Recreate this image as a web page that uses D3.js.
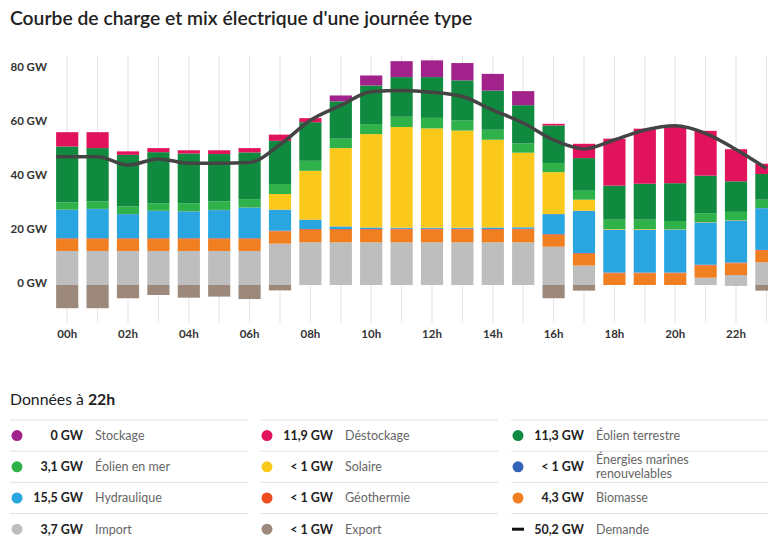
<!DOCTYPE html>
<html>
<head>
<meta charset="utf-8">
<script src="https://cdn.jsdelivr.net/npm/d3@7"></script>
<style>
    body { margin: 0; background: #fff; }
    svg { font-family: Lato, 'Noto Sans', sans-serif; }
</style>
</head>
<body>
<svg id="chart" width="768" height="543"></svg>
<script>
// mix électrique heure par heure (GW)
var hourLabels = [ '00h', '01h', '02h', '03h', '04h', '05h', '06h', '07h', '08h', '09h', '10h', '11h',
                   '12h', '13h', '14h', '15h', '16h', '17h', '18h', '19h', '20h', '21h', '22h', '23h' ];
var axisHours = [ '00h', '02h', '04h', '06h', '08h', '10h', '12h', '14h', '16h', '18h', '20h', '22h' ];
var yTicks = [ 0, 20, 40, 60, 80 ];

var importGW      = [ 12.6, 12.6, 12.6, 12.6, 12.6, 12.6, 12.6, 15.3, 15.8, 15.8, 15.8, 15.8, 15.8, 15.8, 15.8, 15.8, 14.2, 7.2, 0, 0, 0, 2.7, 3.7, 8.4 ];
var biomasse      = [ 4.4, 4.4, 4.4, 4.4, 4.4, 4.4, 4.4, 4.5, 4.6, 4.6, 4.6, 4.7, 4.7, 4.7, 4.6, 4.7, 4.3, 4.3, 4.3, 4.3, 4.3, 4.5, 4.3, 4.3 ];
var geothermie    = [ 0.3, 0.3, 0.3, 0.3, 0.3, 0.3, 0.3, 0.3, 0.3, 0.3, 0.3, 0.3, 0.3, 0.3, 0.3, 0.3, 0.3, 0.3, 0.3, 0.3, 0.3, 0.3, 0.3, 0.3 ];
var hydraulique   = [ 10.5, 10.8, 8.9, 10.1, 9.9, 10.4, 11.3, 7.7, 3.4, 0.9, 0.5, 0.3, 0.3, 0.3, 0.5, 0.5, 7.4, 15.6, 15.8, 15.8, 15.8, 15.6, 15.5, 15.4 ];
var marines       = [ 0.1, 0.1, 0.1, 0.1, 0.1, 0.1, 0.1, 0.1, 0.1, 0.1, 0.1, 0.1, 0.1, 0.1, 0.1, 0.1, 0.1, 0.1, 0.1, 0.1, 0.1, 0.1, 0.1, 0.1 ];
var solaire       = [ 0, 0, 0, 0, 0, 0, 0, 5.8, 18.1, 29.0, 34.6, 37.3, 36.8, 36.0, 32.5, 27.6, 15.5, 4.1, 0.2, 0.2, 0.1, 0.1, 0.1, 0 ];
var eolienMer     = [ 2.7, 2.8, 2.8, 2.8, 3.0, 3.2, 3.1, 3.7, 3.7, 3.5, 3.7, 3.8, 3.9, 3.7, 3.7, 3.4, 3.4, 3.3, 3.5, 3.5, 3.1, 3.3, 3.1, 3.1 ];
var eolienTerre   = [ 20.7, 19.7, 19.1, 18.9, 18.4, 17.5, 17.3, 16.0, 14.3, 13.8, 14.3, 14.7, 15.1, 14.9, 14.5, 14.2, 13.9, 12.1, 12.6, 13.3, 14.0, 13.9, 11.3, 9.5 ];
var destockage    = [ 5.3, 5.9, 1.3, 1.5, 1.2, 1.4, 1.6, 2.3, 1.5, 0, 0, 0, 0, 0, 0, 0, 0.6, 5.3, 17.4, 20.4, 20.9, 16.6, 11.9, 3.8 ];
var stockage      = [ 0, 0, 0, 0, 0, 0, 0, 0, 0, 2.2, 3.7, 5.9, 6.2, 6.4, 6.2, 5.2, 0, 0, 0, 0, 0, 0, 0, 0 ];
var exportGW      = [ 8.6, 8.6, 4.9, 3.7, 4.7, 4.3, 5.2, 2.0, 0, 0, 0, 0, 0, 0, 0, 0, 4.9, 2.1, 0, 0, 0, 0, 0.2, 2.1 ];
var demande       = [ 47.5, 47.5, 44.4, 46.7, 45.1, 45.1, 45.4, 52.0, 61.0, 66.5, 71.6, 72.0, 71.4, 69.8, 64.8, 60.0, 53.7, 50.4, 53.7, 57.4, 59.0, 56.2, 50.2, 43.2 ];

var selectedHour = 22;

var series = [
    { key: 'import',      name: 'Import',          values: importGW,    color: '#bebebe' },
    { key: 'biomasse',    name: 'Biomasse',        values: biomasse,    color: '#f07f22' },
    { key: 'geothermie',  name: 'Géothermie',      values: geothermie,  color: '#ee4b22' },
    { key: 'hydraulique', name: 'Hydraulique',     values: hydraulique, color: '#29a6e0' },
    { key: 'marines',     name: 'Énergies marines renouvelables', values: marines, color: '#3462b6' },
    { key: 'solaire',     name: 'Solaire',         values: solaire,     color: '#fbc91c' },
    { key: 'eolienMer',   name: 'Éolien en mer',   values: eolienMer,   color: '#2fb249' },
    { key: 'eolienTerre', name: 'Éolien terrestre', values: eolienTerre, color: '#0f8a3f' },
    { key: 'destockage',  name: 'Déstockage',      values: destockage,  color: '#e1135d' },
    { key: 'stockage',    name: 'Stockage',        values: stockage,    color: '#a2228b' },
    { key: 'export',      name: 'Export',          values: exportGW,    color: '#9c897c', negative: true }
];

// ordre du tableau, ligne par ligne
var legendOrder = [ 'stockage', 'destockage', 'eolienTerre',
                    'eolienMer', 'solaire', 'marines',
                    'hydraulique', 'geothermie', 'biomasse',
                    'import', 'export', 'demande' ];

var rows = hourLabels.map( function( h, i ) {
    var row = { hour: h };
    series.forEach( function( s ) {
        row[ s.key ] = s.negative ? -s.values[ i ] : s.values[ i ];
    });
    return row;
});

var svg = d3.select( '#chart' );

svg.append( 'text' )
    .attr( 'x', 10 )
    .attr( 'y', 25 )
    .style( 'font-size', '19.3px' )
    .style( 'font-weight', 600 )
    .style( 'fill', '#222' )
    .text( "Courbe de charge et mix électrique d'une journée type" );

var x = d3.scaleBand()
    .domain( hourLabels )
    .range( [ 52, 52 + 24 * 30.4 ] )
    .paddingInner( 0.27 )
    .paddingOuter( 0.135 );

var y = d3.scaleLinear()
    .domain( [ 0, 80 ] )
    .range( [ 285, 69 ] );

function cx( h ) {
    return x( h ) + x.bandwidth() / 2;
}

// grille verticale
svg.append( 'g' )
    .selectAll( 'line' )
    .data( hourLabels )
    .enter().append( 'line' )
        .attr( 'x1', cx )
        .attr( 'x2', cx )
        .attr( 'y1', 56 )
        .attr( 'y2', 323 )
        .style( 'stroke', '#e4e4e4' )
        .style( 'stroke-width', 1 );

var stack = d3.stack()
    .keys( series.map( function( s ) { return s.key; } ) )
    .offset( d3.stackOffsetDiverging );

var layers = svg.append( 'g' )
    .selectAll( 'g' )
    .data( stack( rows ) )
    .enter().append( 'g' )
        .style( 'fill', function( d, i ) { return series[ i ].color; } );

layers.selectAll( 'rect' )
    .data( function( d ) { return d; } )
    .enter().append( 'rect' )
        .attr( 'x', function( d ) { return x( d.data.hour ); } )
        .attr( 'width', x.bandwidth() )
        .attr( 'y', function( d ) { return y( d[ 1 ] ); } )
        .attr( 'height', function( d ) { return Math.max( 0, y( d[ 0 ] ) - y( d[ 1 ] ) ); } );

// courbe de demande
var linePoints = demande.map( function( v, i ) { return [ cx( hourLabels[ i ] ), y( v ) ]; } );
linePoints.unshift( [ x( hourLabels[ 0 ] ), y( demande[ 0 ] ) ] );

svg.append( 'path' )
    .datum( linePoints )
    .attr( 'd', d3.line().curve( d3.curveMonotoneX ) )
    .style( 'fill', 'none' )
    .style( 'stroke', '#444' )
    .style( 'stroke-width', 3.5 )
    .style( 'stroke-linejoin', 'round' );

// axes
var yAxis = svg.append( 'g' )
    .attr( 'transform', 'translate( 47, 0 )' )
    .call( d3.axisLeft( y )
        .tickValues( yTicks )
        .tickSize( 0 )
        .tickPadding( 0 )
        .tickFormat( function( d ) { return d + ' GW'; } ) );

var xAxis = svg.append( 'g' )
    .attr( 'transform', 'translate( 0, 330 )' )
    .call( d3.axisBottom( x )
        .tickValues( axisHours )
        .tickSize( 0 )
        .tickPadding( 0 ) );

[ yAxis, xAxis ].forEach( function( a ) {
    a.select( '.domain' ).remove();
    a.selectAll( 'text' )
        .style( 'font-family', "Lato, 'Noto Sans', sans-serif" )
        .style( 'font-size', '11.5px' )
        .style( 'font-weight', 700 )
        .style( 'fill', '#333' );
});
yAxis.selectAll( 'text' ).attr( 'dy', '0.1em' );

// tableau des données à l'heure choisie
var title = svg.append( 'text' )
    .attr( 'x', 10 )
    .attr( 'y', 405 )
    .style( 'font-size', '15.8px' )
    .style( 'fill', '#222' );
title.append( 'tspan' ).text( 'Données à ' );
title.append( 'tspan' ).style( 'font-weight', 700 ).text( hourLabels[ selectedHour ] );

var colX = [ 10, 260, 511 ];
var colW = [ 238, 238, 257 ];
var rowTop = 420;
var rowH = 31.2;

function fmt( v ) {
    if ( v === 0 ) return '0 GW';
    if ( v < 1 ) return '< 1 GW';
    return v.toFixed( 1 ).replace( '.', ',' ) + ' GW';
}

var cells = legendOrder.map( function( key, i ) {
    var s = series.filter( function( t ) { return t.key === key; } )[ 0 ];
    if ( key === 'demande' ) {
        s = { key: 'demande', name: 'Demande', values: demande, color: '#111' };
    }
    return { s: s, col: i % 3, row: Math.floor( i / 3 ) };
});

var cell = svg.append( 'g' )
    .selectAll( 'g' )
    .data( cells )
    .enter().append( 'g' )
        .attr( 'transform', function( d ) {
            return 'translate( ' + colX[ d.col ] + ', ' + ( rowTop + d.row * rowH ) + ' )';
        });

cell.append( 'line' )
    .attr( 'x1', 0 )
    .attr( 'x2', function( d ) { return colW[ d.col ]; } )
    .attr( 'y1', 0 )
    .attr( 'y2', 0 )
    .style( 'stroke', '#e2e2e2' );

cell.filter( function( d ) { return d.row === 3; } )
    .append( 'line' )
    .attr( 'x1', 0 )
    .attr( 'x2', function( d ) { return colW[ d.col ]; } )
    .attr( 'y1', rowH )
    .attr( 'y2', rowH )
    .style( 'stroke', '#e2e2e2' );

cell.filter( function( d ) { return d.s.key !== 'demande'; } )
    .append( 'circle' )
    .attr( 'cx', 7 )
    .attr( 'cy', rowH / 2 )
    .attr( 'r', 5.5 )
    .style( 'fill', function( d ) { return d.s.color; } );

cell.filter( function( d ) { return d.s.key === 'demande'; } )
    .append( 'line' )
    .attr( 'x1', 1 )
    .attr( 'x2', 13 )
    .attr( 'y1', rowH / 2 )
    .attr( 'y2', rowH / 2 )
    .style( 'stroke', '#111' )
    .style( 'stroke-width', 3 );

cell.append( 'text' )
    .attr( 'x', 73 )
    .attr( 'y', rowH / 2 )
    .attr( 'dy', '0.35em' )
    .attr( 'text-anchor', 'end' )
    .style( 'font-size', '12.5px' )
    .style( 'font-weight', 700 )
    .style( 'fill', '#222' )
    .text( function( d ) { return fmt( d.s.values[ selectedHour ] ); } );

cell.append( 'text' )
    .attr( 'x', 85 )
    .attr( 'y', rowH / 2 )
    .attr( 'dy', '0.35em' )
    .style( 'font-size', '12.5px' )
    .style( 'fill', '#666' )
    .each( function( d ) {
        var t = d3.select( this );
        if ( d.s.key === 'marines' ) {
            t.attr( 'dy', null );
            t.append( 'tspan' ).attr( 'x', 85 ).attr( 'dy', '-0.2em' ).text( 'Énergies marines' );
            t.append( 'tspan' ).attr( 'x', 85 ).attr( 'dy', '1.12em' ).text( 'renouvelables' );
        } else {
            t.text( d.s.name );
        }
    });
</script>
</body>
</html>
